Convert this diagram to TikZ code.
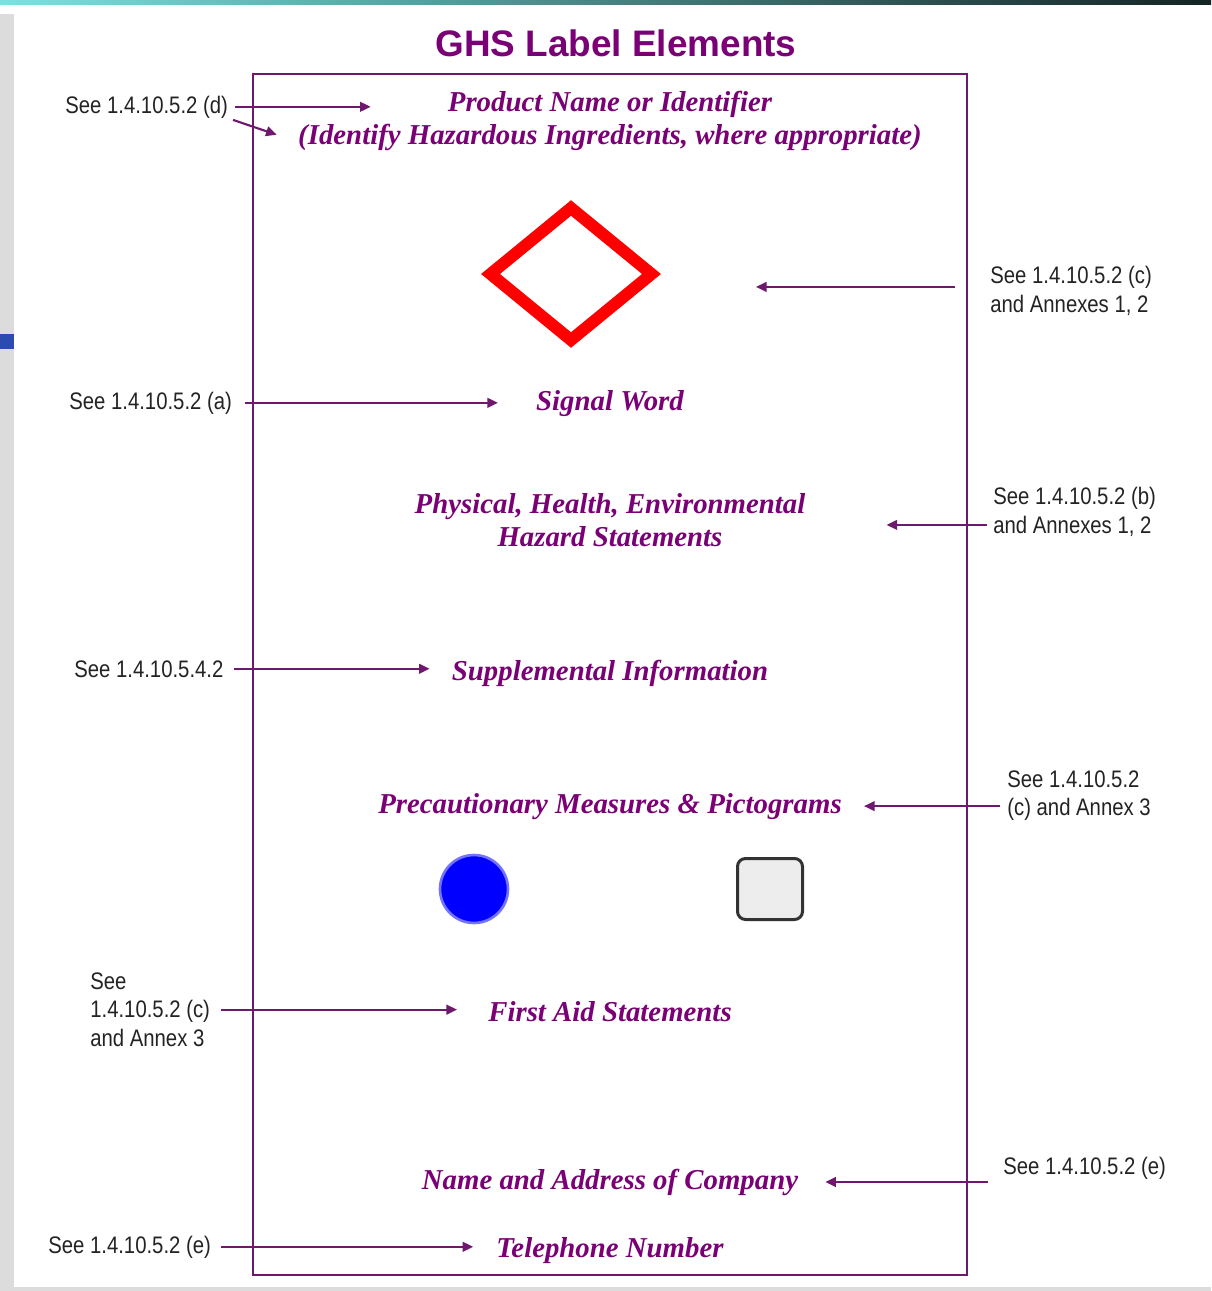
\documentclass[tikz,border=0pt]{standalone}
\usepackage{fontspec}
\setmainfont{Liberation Serif}
\newfontfamily\reffont[FakeStretch=0.85]{Liberation Sans}
\newfontfamily\headfont{Liberation Sans}
\usetikzlibrary{arrows.meta,shapes.geometric}
\definecolor{ghspurple}{RGB}{122,0,118}
\definecolor{linkpurple}{RGB}{110,24,110}
\definecolor{refgray}{RGB}{35,35,35}
\definecolor{barleft}{RGB}{125,225,225}
\definecolor{barright}{RGB}{20,35,35}
\definecolor{stripgray}{RGB}{220,220,220}
\definecolor{markblue}{RGB}{43,75,176}

\begin{document}
\begin{tikzpicture}[x=0.02cm,y=-0.02cm,
    element/.style={font=\fontsize{16.4pt}{18.7pt}\selectfont\bfseries\itshape, text=ghspurple, anchor=base},
    ref/.style={font=\reffont\fontsize{13.6pt}{16.4pt}\selectfont, text=refgray, align=left},
    link/.style={draw=linkpurple, line width=1.2pt, -{Triangle[length=6pt,width=5.5pt]}}]
                          \tikzstyle{every node}+=[inner sep=0pt]
                          \useasboundingbox (0,0) rectangle (1211,1291);
                          % slide frame
                          \fill [white] (0,0) rectangle (1211,1291);
                          \shade [left color=barleft, right color=barright] (0,0) rectangle (1211,5);
                          \fill [stripgray] (0,14) rectangle (14,1291);
                          \fill [stripgray] (0,1287) rectangle (1211,1291);
                          \fill [markblue] (0,334) rectangle (14,349);
                          % title and label outline
                          \node [anchor=base, text=ghspurple, font=\headfont\bfseries\fontsize{21pt}{25pt}\selectfont] (title) at (616,57) {GHS Label Elements};
                          \draw [linkpurple, line width=1.2pt] (253,74) rectangle (967,1275);
                          % label elements
                          \node [element] (prodname) at (610,112) {Product Name or Identifier};
                          \node [element] (prodnote) at (610,144) {(Identify Hazardous Ingredients, where appropriate)};
                          \node [shape=diamond, draw=red, line width=0.24cm, minimum width=3.32cm, minimum height=2.74cm] (hazard) at (571,274) {};
                          \node [element] (signal) at (610,410) {Signal Word};
                          \node [element, align=center, anchor=north] (hazstat) at (610,493) {Physical, Health, Environmental\\Hazard Statements};
                          \node [element] (suppl) at (610,680) {Supplemental Information};
                          \node [element] (precaut) at (610,813) {Precautionary Measures \& Pictograms};
                          \node [circle, fill=blue, draw=blue!55, line width=1.5pt, minimum size=1.36cm] (dot) at (474,889) {};
                          \node [draw=black!80, fill=black!7, line width=0.06cm, rounded corners=0.16cm, minimum width=1.3cm, minimum height=1.22cm] (tile) at (770,889) {};
                          \node [element] (firstaid) at (610,1021) {First Aid Statements};
                          \node [element] (company) at (610,1189) {Name and Address of Company};
                          \node [element] (phone) at (610,1257) {Telephone Number};
                          % references
                          \node [ref, anchor=base west] (refd) at (65,113) {See 1.4.10.5.2 (d)};
                          \node [ref, anchor=north west] (refc) at (990,266) {See 1.4.10.5.2 (c)\\and Annexes 1, 2};
                          \node [ref, anchor=base west] (refa) at (69,409) {See 1.4.10.5.2 (a)};
                          \node [ref, anchor=north west] (refb) at (993,487) {See 1.4.10.5.2 (b)\\and Annexes 1, 2};
                          \node [ref, anchor=base west] (refsup) at (74,677) {See 1.4.10.5.4.2};
                          \node [ref, anchor=north west] (refpict) at (1007,770) {See 1.4.10.5.2\\(c) and Annex 3};
                          \node [ref, anchor=north west] (refaid) at (90,972) {See\\1.4.10.5.2 (c)\\and Annex 3};
                          \node [ref, anchor=base west] (refcomp) at (1003,1174) {See 1.4.10.5.2 (e)};
                          \node [ref, anchor=base west] (reftel) at (48,1253) {See 1.4.10.5.2 (e)};
                          % arrows
                          \draw [link, shorten <=0.14cm, shorten >=1.54cm] (refd.east) -- (refd.east -| prodname.west);
                          \draw [link, shorten <=0.1cm, shorten >=0.45cm] (refd.south east) -- ([yshift=-0.1cm]prodnote.west);
                          \draw [link, shorten <=0.7cm, shorten >=1.92cm] ([yshift=0.08cm]refc.west) -- ([yshift=0.08cm]refc.west -| hazard.east);
                          \draw [link, shorten <=0.26cm, shorten >=0.76cm] (refa.east) -- (refa.east -| signal.west);
                          \draw [link, shorten <=0.12cm, shorten >=1.62cm] ([yshift=-0.1cm]refb.west |- hazstat.east) -- ([yshift=-0.1cm]hazstat.east);
                          \draw [link, shorten <=0.2cm, shorten >=0.44cm] (refsup.east) -- (refsup.east -| suppl.west);
                          \draw [link, shorten <=0.14cm, shorten >=0.44cm] (refpict.west |- precaut.east) -- (precaut.east);
                          \draw [link, shorten <=0.22cm, shorten >=0.62cm] (refaid.east) -- (refaid.east -| firstaid.west);
                          \draw [link, shorten <=0.3cm, shorten >=0.54cm] (refcomp.west |- company.east) -- (company.east);
                          \draw [link, shorten <=0.2cm, shorten >=0.46cm] (reftel.east) -- (reftel.east -| phone.west);
                      \end{tikzpicture}
\end{document}
